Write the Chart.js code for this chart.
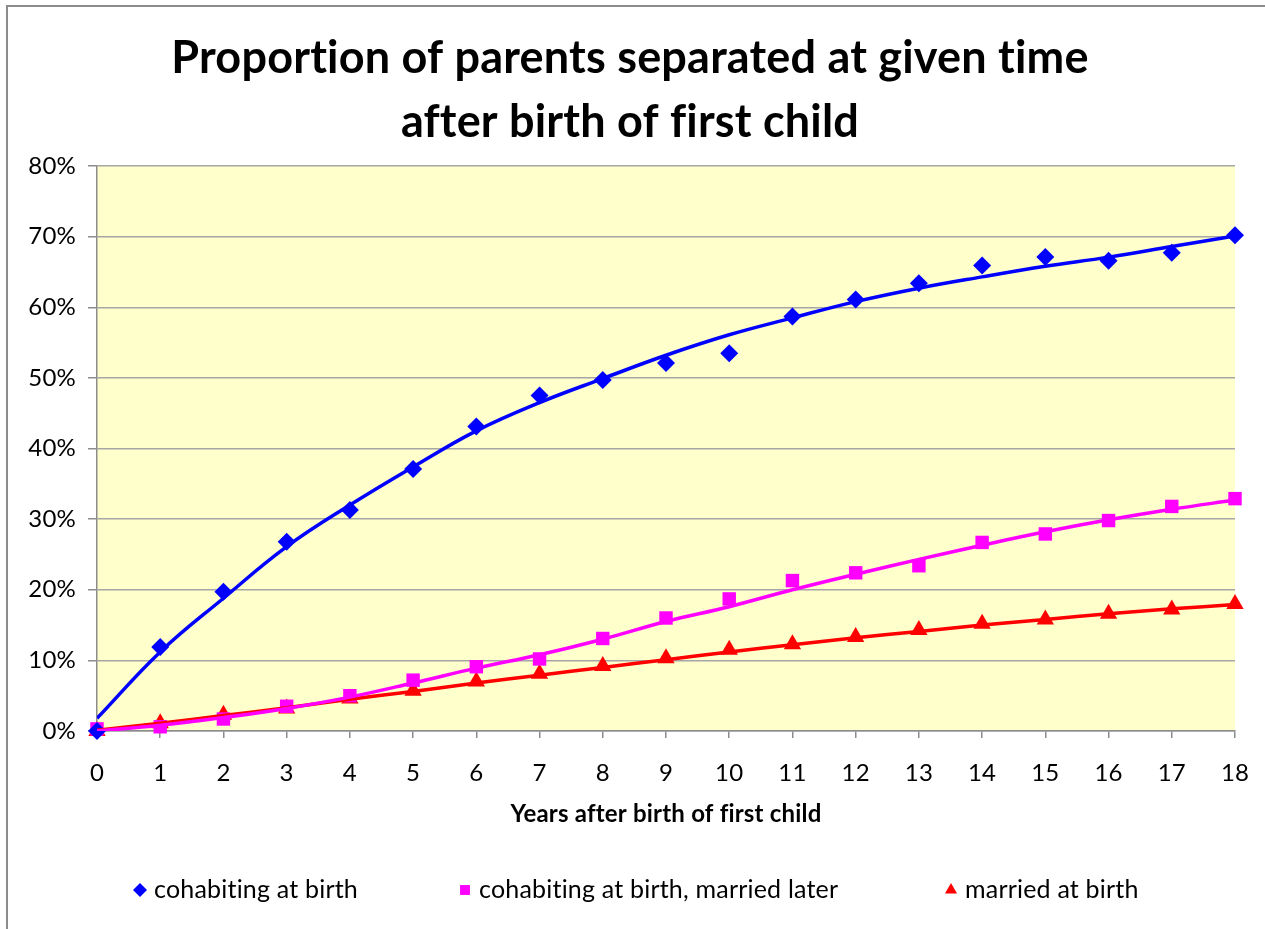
<!DOCTYPE html>
<html>
<head>
<meta charset="utf-8">
<script src="https://cdn.jsdelivr.net/npm/chart.js@4/dist/chart.umd.min.js"></script>
<style>
  body { margin: 0; background: #fff; }
  #wrap { position: relative; width: 1265px; height: 929px; }
</style>
</head>
<body>
<div id="wrap"><canvas id="chart" width="1265" height="929"></canvas></div>
<script>
// years after birth of first child
const years = [0, 1, 2, 3, 4, 5, 6, 7, 8, 9, 10, 11, 12, 13, 14, 15, 16, 17, 18];

// observed proportions separated (%)
const cohabiting = [0, 11.9, 19.7, 26.8, 31.3, 37.1, 43.1, 47.5, 49.7, 52.1, 53.5, 58.7, 61.1, 63.4, 65.9, 67.1, 66.6, 67.7, 70.2];
const cohabMarried = [0.3, 0.6, 1.7, 3.5, 5.0, 7.2, 9.1, 10.2, 13.1, 16.0, 18.7, 21.3, 22.4, 23.4, 26.7, 27.9, 29.8, 31.8, 32.9];
const married = [0, 1.1, 2.3, 3.2, 4.6, 5.7, 7.0, 8.1, 9.2, 10.3, 11.5, 12.3, 13.3, 14.3, 15.2, 15.8, 16.6, 17.2, 18.0];

// trend lines (%)
const cohabitingTrend = [1.8, 11.2, 18.8, 26.1, 32.0, 37.4, 42.5, 46.5, 49.9, 53.2, 56.1, 58.5, 60.8, 62.7, 64.3, 65.8, 67.1, 68.6, 70.1];
const cohabMarriedTrend = [0, 0.8, 1.9, 3.2, 4.8, 6.8, 8.9, 10.8, 13.0, 15.5, 17.6, 20.0, 22.2, 24.3, 26.3, 28.2, 29.9, 31.4, 32.7];
const marriedTrend = [0.1, 1.1, 2.2, 3.3, 4.5, 5.6, 6.8, 7.9, 9.0, 10.1, 11.2, 12.2, 13.2, 14.1, 15.0, 15.8, 16.6, 17.3, 17.9];

const seriesNames = ['cohabiting at birth', 'cohabiting at birth, married later', 'married at birth'];
const colors = ['#0000ff', '#ff00ff', '#ff0000'];

const FONT = 'Lato, "Open Sans", sans-serif';

const toPoints = (vals) => vals.map((v, i) => ({ x: years[i], y: v }));

// yellow plot area + outer frame
const backdrop = {
  id: 'backdrop',
  beforeDraw(chart) {
    const { ctx, chartArea: a } = chart;
    ctx.letterSpacing = '0.2px'; // also stops the "ti"/"fi" ligatures
    ctx.save();
    ctx.strokeStyle = '#8c8c8c';
    ctx.lineWidth = 2;
    ctx.strokeRect(7, 6, 1400, 1100);
    ctx.fillStyle = '#ffffcc';
    ctx.fillRect(a.left, a.top, a.right - a.left, a.bottom - a.top);
    ctx.restore();
  }
};

// legend drawn along the bottom, spread out like the original
const bottomLegend = {
  id: 'bottomLegend',
  afterDraw(chart) {
    const { ctx } = chart;
    const xs = [140, 465, 951];
    const y = 890;
    ctx.save();
    ctx.font = '25px ' + FONT;
    ctx.textBaseline = 'middle';
    ctx.textAlign = 'left';
    chart.data.datasets.slice(0, 3).forEach((ds, i) => {
      ctx.fillStyle = ds.backgroundColor;
      Chart.helpers.drawPoint(ctx, { pointStyle: ds.pointStyle, radius: 7, rotation: 0, borderWidth: 0 }, xs[i], y);
      ctx.fillStyle = '#000';
      ctx.fillText(ds.label, xs[i] + 14, y);
    });
    ctx.restore();
  }
};

const pointSet = (label, vals, color, style, radius) => ({
  type: 'scatter',
  label: label,
  data: toPoints(vals),
  backgroundColor: color,
  borderColor: color,
  borderWidth: 0,
  pointStyle: style,
  pointRadius: radius,
  pointHoverRadius: radius,
  showLine: false,
  clip: false,
  order: 2
});

const trendSet = (vals, color) => ({
  type: 'line',
  label: 'trend',
  data: toPoints(vals),
  borderColor: color,
  backgroundColor: color,
  borderWidth: 3.5,
  pointRadius: 0,
  tension: 0.4,
  fill: false,
  order: 1
});

new Chart(document.getElementById('chart'), {
  type: 'scatter',
  data: {
    datasets: [
      pointSet(seriesNames[0], cohabiting, colors[0], 'rectRot', 9),
      pointSet(seriesNames[1], cohabMarried, colors[1], 'rect', 9.5),
      pointSet(seriesNames[2], married, colors[2], 'triangle', 10),
      trendSet(cohabitingTrend, colors[0]),
      trendSet(cohabMarriedTrend, colors[1]),
      trendSet(marriedTrend, colors[2])
    ]
  },
  options: {
    responsive: false,
    animation: false,
    layout: { padding: { left: 25, right: 30, top: 0, bottom: 92 } },
    plugins: {
      legend: { display: false },
      tooltip: { enabled: false },
      title: {
        display: true,
        text: ['Proportion of parents separated at given time', 'after birth of first child'],
        color: '#000',
        font: { family: FONT, size: 45, weight: 'bold', lineHeight: 64 / 45 },
        padding: { top: 26, bottom: 12 }
      }
    },
    scales: {
      x: {
        type: 'linear',
        min: 0,
        max: 18,
        ticks: { stepSize: 1, color: '#000', padding: 21, font: { family: FONT, size: 24 } },
        grid: { display: true, drawOnChartArea: false, drawTicks: true, tickLength: 7, color: '#8c8c8c', lineWidth: 1.5 },
        border: { color: '#8c8c8c', width: 1.5 },
        title: {
          display: true,
          text: 'Years after birth of first child',
          color: '#000',
          font: { family: FONT, size: 24, weight: 'bold', lineHeight: 1.2 },
          padding: { top: 10, bottom: 8 }
        },
        afterFit: (s) => {
          s.height = 106;
          s.paddingLeft = 0;
          s.paddingRight = 0;
        }
      },
      y: {
        min: 0,
        max: 80,
        ticks: { stepSize: 10, color: '#000', padding: 12, font: { family: FONT, size: 24 }, callback: (v) => v + '%' },
        grid: { color: '#a6a6a6', lineWidth: 1.5, tickLength: 9, tickColor: '#8c8c8c' },
        border: { color: '#8c8c8c', width: 1.5 },
        afterFit: (s) => { s.width = 72; }
      }
    }
  },
  plugins: [backdrop, bottomLegend]
});
</script>
</body>
</html>
